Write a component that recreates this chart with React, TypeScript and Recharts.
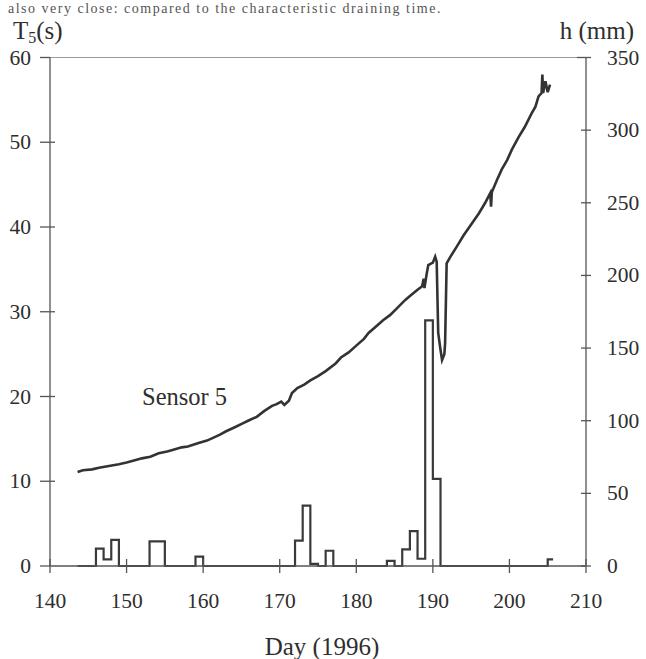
import React from "react";
import { ComposedChart, Line, XAxis, YAxis, ReferenceLine } from "recharts";

// axis ticks
const dayTicks = [140, 150, 160, 170, 180, 190, 200, 210];
const timeTicks = [0, 10, 20, 30, 40, 50, 60];
const depthTicks = [0, 50, 100, 150, 200, 250, 300, 350];

// Sensor 5 draining time T5 (s)
const sensorDays = [
  143.6, 144.3, 145.5, 146.4, 147.7, 149, 150, 151.2, 152, 153.1, 154.2, 155.3, 156, 157.2, 158,
  159.4, 160.5, 161, 162.2, 163, 164.2, 165.1, 166, 167, 168, 169, 169.6, 170.2, 170.6, 171.2,
  171.6, 172.3, 173.2, 174, 175, 176, 177.3, 178, 179, 180, 181, 181.6, 182.5, 183.5, 184.4,
  185.3, 186.4, 187.2, 188, 188.6, 188.8, 188.9, 189.2, 189.4, 190.0, 190.3, 190.5, 190.7,
  191.0, 191.2, 191.5, 191.6, 191.8, 192.3, 193.2, 194, 195, 196, 196.8, 197.5, 197.6, 197.7,
  198.4, 199, 199.7, 200.3, 201.2, 202, 202.9, 203.4, 203.8, 204.2, 204.3, 204.4, 204.7, 205.0,
  205.3,
];
const sensorT5 = [
  11.1, 11.3, 11.4, 11.6, 11.8, 12.0, 12.2, 12.5, 12.7, 12.9, 13.3, 13.5, 13.7, 14.0, 14.1,
  14.5, 14.8, 15.0, 15.5, 15.9, 16.4, 16.8, 17.2, 17.6, 18.3, 18.9, 19.1, 19.4, 19.0, 19.5,
  20.4, 21.0, 21.4, 21.9, 22.4, 23.0, 23.9, 24.6, 25.2, 26.0, 26.8, 27.5, 28.2, 29.0, 29.6,
  30.4, 31.4, 32.0, 32.6, 33.0, 33.9, 32.8, 34.5, 35.5, 35.8, 36.5, 35.9, 27.5,
  25.5, 24.3, 25.0, 26.3, 35.7, 36.5, 37.8, 39.0, 40.3, 41.6, 42.8, 44.0, 42.4, 44.1,
  45.6, 46.8, 47.9, 49.1, 50.6, 51.8, 53.4, 54.2, 55.4, 55.8, 58.0, 55.8, 57.2, 55.9,
  56.8,
];

// daily rainfall h (mm), drawn as a step histogram
const rainDays = [
  143.6, 146, 147, 148, 149, 153, 155, 159, 160, 172, 173, 174, 175, 176, 177, 184, 185, 186,
  187, 188, 189, 190, 191, 205, 205.7,
];
const rainMm = [
  0, 12, 4.5, 18, 0, 17, 0, 6.5, 0, 17.5, 41.5, 1.5, 0, 10.5, 0, 3.5, 0, 11.5, 24, 5, 169, 60,
  0, 4.5, 4.5,
];

const sensorData = sensorDays.map((day, i) => ({ day, t5: sensorT5[i] }));
const rainData = rainDays.map((day, i) => ({ day, h: rainMm[i] }));

const FONT = '"Liberation Serif", "DejaVu Serif", serif';
const INK = "#2e2e2e";
const AXIS = "#555";
const serif = { fontFamily: FONT };

function LeftTick(props: any) {
  const { x, y, payload } = props;
  const v = payload.value;
  return (
    <g>
      <line x1={x - 10} x2={v === 60 || v === 0 ? x : x + 5} y1={y} y2={y} stroke={AXIS} strokeWidth={1.3} />
      <text x={x - 19} y={y + 7} textAnchor="end" fontSize={21.5} fill={INK} style={serif}>
        {v}
      </text>
    </g>
  );
}

function RightTick(props: any) {
  const { x, y, payload } = props;
  const v = payload.value;
  return (
    <g>
      <line x1={v === 350 ? x - 9 : x - 5} x2={x + 5} y1={y} y2={y} stroke={AXIS} strokeWidth={1.3} />
      <text x={x + 21} y={y + 7} textAnchor="start" fontSize={21.5} fill={INK} style={serif}>
        {v}
      </text>
    </g>
  );
}

function DayTick(props: any) {
  const { x, y, payload } = props;
  return (
    <g>
      <line x1={x} x2={x} y1={y - 7} y2={y + 7} stroke={AXIS} strokeWidth={1.3} />
      <text x={x} y={y + 42} textAnchor="middle" fontSize={21.5} fill={INK} style={serif}>
        {payload.value}
      </text>
    </g>
  );
}

export default function App() {
  return (
    <div
      style={{
        position: "absolute",
        left: 0,
        top: 0,
        width: 646,
        height: 659,
        background: "#fff",
        overflow: "hidden",
        fontFamily: FONT,
      }}
    >
      <ComposedChart
        width={646}
        height={659}
        margin={{ top: 57.5, right: 0, bottom: 0, left: 0 }}
        style={serif}
      >
        <XAxis
          dataKey="day"
          type="number"
          domain={[140, 210]}
          ticks={dayTicks}
          allowDataOverflow
          height={93}
          tickSize={0}
          tickMargin={0}
          tick={<DayTick />}
          axisLine={{ stroke: AXIS, strokeWidth: 1.5 }}
        />
        <YAxis
          yAxisId="t5"
          orientation="left"
          domain={[0, 60]}
          ticks={timeTicks}
          width={50}
          tickSize={0}
          tickMargin={0}
          tick={<LeftTick />}
          axisLine={{ stroke: AXIS, strokeWidth: 1.3 }}
        />
        <YAxis
          yAxisId="h"
          orientation="right"
          domain={[0, 350]}
          ticks={depthTicks}
          width={60}
          tickSize={0}
          tickMargin={0}
          tick={<RightTick />}
          axisLine={{ stroke: AXIS, strokeWidth: 1.3 }}
        />
        <ReferenceLine yAxisId="t5" y={60} stroke="#9a9a9a" strokeWidth={1.2} />
        <Line
          yAxisId="h"
          data={rainData}
          dataKey="h"
          type="stepAfter"
          stroke="#3a3a3a"
          strokeWidth={2.2}
          dot={false}
          isAnimationActive={false}
        />
        <Line
          yAxisId="t5"
          data={sensorData}
          dataKey="t5"
          type="linear"
          stroke="#333"
          strokeWidth={2.6}
          dot={false}
          isAnimationActive={false}
        />
      </ComposedChart>
      <svg
        width={646}
        height={659}
        style={{ position: "absolute", left: 0, top: 0, pointerEvents: "none", ...serif }}
      >
        <text x={8} y={13} fontSize={14} fill="#555" letterSpacing={1.5}>
          also very close: compared to the characteristic draining time.
        </text>
        <text x={13} y={38.5} fontSize={25} fill={INK}>
          T
          <tspan fontSize={16} dy={4}>
            5
          </tspan>
          <tspan dy={-4}>(s)</tspan>
        </text>
        <text x={634} y={38.5} textAnchor="end" fontSize={25} fill={INK}>
          h (mm)
        </text>
        <text x={142} y={405} fontSize={24.5} fill={INK}>
          Sensor 5
        </text>
        <text x={322} y={655} textAnchor="middle" fontSize={25} fill={INK}>
          Day (1996)
        </text>
      </svg>
    </div>
  );
}
